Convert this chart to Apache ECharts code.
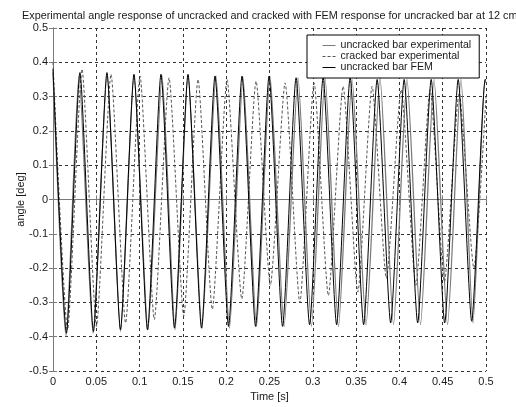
<!DOCTYPE html>
<html>
<head>
<meta charset="utf-8">
<script src="https://cdn.jsdelivr.net/npm/echarts@6/dist/echarts.min.js"></script>
<style>
  html, body { margin: 0; padding: 0; background: #fff; }
  #chart { width: 516px; height: 407px; }
</style>
</head>
<body>
<div id="chart"></div>
<script>
// Axis tick labels
const timeTickLabels = ['0', '0.05', '0.1', '0.15', '0.2', '0.25', '0.3', '0.35', '0.4', '0.45', '0.5'];
const angleTickLabels = ['-0.5', '-0.4', '-0.3', '-0.2', '-0.1', '0', '0.1', '0.2', '0.3', '0.4', '0.5'];

// Uncracked bar, measured: turning points of the angle trace (time [s], angle [deg])
const timeUncrackedExp = [0.000, 0.0150, 0.0300, 0.0462, 0.0624, 0.0780, 0.0935, 0.1097, 0.1259, 0.1410,
  0.1559, 0.1720, 0.1882, 0.2038, 0.2194, 0.2350, 0.2506, 0.2668, 0.2829, 0.2985, 0.3141, 0.3297,
  0.3453, 0.3615, 0.3776, 0.3932, 0.4088, 0.4244, 0.4400, 0.4556, 0.4711, 0.4850, 0.4988, 0.5000];
const angleUncrackedExp = [0.37, -0.40, 0.36, -0.39, 0.365, -0.385, 0.36, -0.38, 0.36, -0.38,
  0.36, -0.375, 0.36, -0.375, 0.355, -0.37, 0.36, -0.37, 0.355, -0.37, 0.355, -0.37,
  0.35, -0.365, 0.355, -0.365, 0.35, -0.365, 0.35, -0.365, 0.35, -0.36, 0.35, 0.34];

// Cracked bar, measured
const timeCrackedExp = [0.000, 0.0168, 0.0335, 0.0502, 0.0670, 0.0838, 0.1005, 0.1170, 0.1340, 0.1510,
  0.1675, 0.1840, 0.2010, 0.2180, 0.2345, 0.2510, 0.2680, 0.2850, 0.3015, 0.3180, 0.3350, 0.3520,
  0.3685, 0.3850, 0.4020, 0.4190, 0.4355, 0.4520, 0.4690, 0.4860, 0.5000];
const angleCrackedExp = [0.40, -0.38, 0.38, -0.37, 0.365, -0.36, 0.36, -0.35, 0.355, -0.34,
  0.35, -0.32, 0.35, -0.29, 0.345, -0.25, 0.34, -0.30, 0.34, -0.28, 0.33, -0.27,
  0.33, -0.23, 0.32, -0.25, 0.32, -0.24, 0.31, -0.20, 0.30];

// Uncracked bar, finite element model
const timeFem = [0.000, 0.0155, 0.0311, 0.0467, 0.0623, 0.0779, 0.0935, 0.1091, 0.1247, 0.1403,
  0.1559, 0.1715, 0.1871, 0.2027, 0.2183, 0.2339, 0.2495, 0.2651, 0.2807, 0.2963, 0.3119, 0.3275,
  0.3431, 0.3587, 0.3743, 0.3899, 0.4055, 0.4211, 0.4367, 0.4523, 0.4679, 0.4835, 0.4991, 0.5000];
const angleFem = [0.38, -0.39, 0.37, -0.385, 0.37, -0.38, 0.365, -0.38, 0.365, -0.375,
  0.365, -0.375, 0.36, -0.37, 0.36, -0.37, 0.36, -0.37, 0.355, -0.365, 0.355, -0.365,
  0.355, -0.365, 0.35, -0.36, 0.35, -0.36, 0.35, -0.36, 0.35, -0.355, 0.35, 0.349];

const pairs = (xs, ys) => xs.map((x, i) => [x, ys[i]]);
const fmtTime = v => timeTickLabels[Math.round(v / 0.05)];
const fmtAngle = v => angleTickLabels[Math.round((v + 0.5) / 0.1)];

const frameColor = '#7a7a7a';
const fontFamily = 'Liberation Sans, Arial, sans-serif';
const textStyle = { color: '#1a1a1a', fontFamily, fontSize: 11 };

const chart = echarts.init(document.getElementById('chart'), null, { renderer: 'canvas' });
chart.setOption({
  animation: false,
  backgroundColor: '#ffffff',
  title: {
    text: 'Experimental angle response of uncracked and cracked with FEM response for uncracked bar at 12 cm',
    left: 22, top: 10, padding: 0,
    textStyle: { color: '#1a1a1a', fontFamily, fontSize: 10.85, fontWeight: 'normal' }
  },
  grid: { left: 53, right: 30, top: 28, bottom: 28, containLabel: false },
  legend: {
    orient: 'vertical',
    left: 307, top: 35,
    padding: [5, 8, 5, 15],
    itemWidth: 13, itemHeight: 11, itemGap: 0,
    backgroundColor: '#ffffff',
    borderColor: '#000000', borderWidth: 1,
    itemStyle: { opacity: 0 },
    lineStyle: { width: 1 },
    textStyle: { color: '#1a1a1a', fontFamily, fontSize: 10.6, lineHeight: 11 },
    data: ['uncracked bar experimental', 'cracked bar experimental', 'uncracked bar FEM']
  },
  xAxis: [{
    type: 'value', min: 0, max: 0.5, interval: 0.05,
    name: 'Time [s]', nameLocation: 'middle', nameGap: 20, nameMoveOverlap: false,
    nameTextStyle: textStyle,
    axisLine: { show: true, lineStyle: { color: frameColor, width: 1 } },
    axisTick: { show: true, inside: true, length: 4, lineStyle: { color: frameColor } },
    axisLabel: { formatter: fmtTime, margin: 5, ...textStyle },
    splitLine: { show: true, lineStyle: { color: '#333', type: [3, 3], width: 1 } }
  }, {
    type: 'value', min: 0, max: 0.5, interval: 0.05, position: 'top',
    axisLine: { show: true, lineStyle: { color: frameColor, width: 1 } },
    axisTick: { show: true, inside: true, length: 4, lineStyle: { color: frameColor } },
    axisLabel: { show: false }, splitLine: { show: false }
  }],
  yAxis: [{
    type: 'value', min: -0.5, max: 0.5, interval: 0.1,
    name: 'angle [deg]', nameLocation: 'middle', nameGap: 27, nameRotate: 90, nameMoveOverlap: false,
    nameTextStyle: textStyle,
    axisLine: { show: true, lineStyle: { color: frameColor, width: 1 } },
    axisTick: { show: true, inside: true, length: 4, lineStyle: { color: frameColor } },
    axisLabel: { formatter: fmtAngle, margin: 5, ...textStyle },
    splitLine: { show: true, lineStyle: { color: '#333', type: [3, 3], width: 1 } }
  }, {
    type: 'value', min: -0.5, max: 0.5, interval: 0.1, position: 'right',
    axisLine: { show: true, lineStyle: { color: frameColor, width: 1 } },
    axisTick: { show: true, inside: true, length: 4, lineStyle: { color: frameColor } },
    axisLabel: { show: false }, splitLine: { show: false }
  }],
  series: [{
    name: 'uncracked bar experimental', type: 'line', xAxisIndex: 0, yAxisIndex: 0,
    data: pairs(timeUncrackedExp, angleUncrackedExp),
    symbol: 'none', smooth: 0.2,
    lineStyle: { color: '#7a7a7a', width: 1.3 }, itemStyle: { color: '#7a7a7a' }
  }, {
    name: 'cracked bar experimental', type: 'line', xAxisIndex: 0, yAxisIndex: 0,
    data: pairs(timeCrackedExp, angleCrackedExp),
    symbol: 'none', smooth: 0.2,
    lineStyle: { color: '#555555', width: 1, type: [3, 2] }, itemStyle: { color: '#555555' }
  }, {
    name: 'uncracked bar FEM', type: 'line', xAxisIndex: 0, yAxisIndex: 0,
    data: pairs(timeFem, angleFem),
    symbol: 'none', smooth: 0.2,
    lineStyle: { color: '#000000', width: 1 }, itemStyle: { color: '#000000' }
  }]
});
</script>
</body>
</html>
